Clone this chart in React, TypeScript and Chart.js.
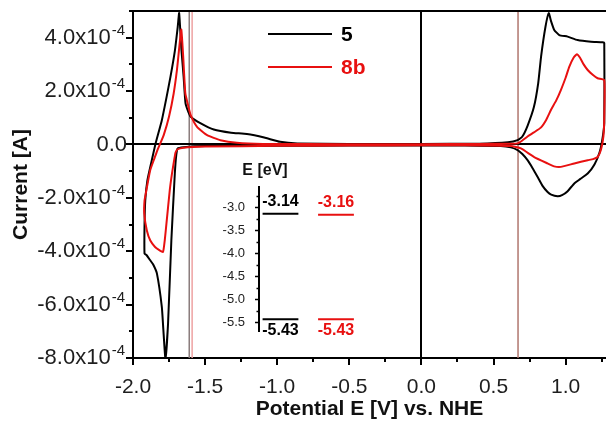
import React, { useEffect, useRef } from 'react';
import { Chart, registerables } from 'chart.js';

Chart.register(...registerables);

// ---- Data: cyclic voltammograms (current in units of 10^-4 A) ----
const seriesNames = ['5', '8b'];
const seriesColors = ['#000000', '#e81010'];

const potential5 = [
  0.0, -0.5, -1.0, -1.5, -1.65, -1.69, -1.7, -1.71, -1.734, -1.757, -1.775, -1.79, -1.8, -1.834, -1.86, -1.882, -1.905, -1.92,
  -1.92, -1.915, -1.9, -1.87, -1.845, -1.8, -1.77, -1.74, -1.71, -1.69, -1.68,
  -1.665, -1.649, -1.636, -1.615, -1.6, -1.53, -1.44, -1.32, -1.21, -1.09, -0.98, -0.86, -0.5, 0.0, 0.4, 0.6, 0.667, 0.7, 0.736, 0.78, 0.81, 0.83, 0.86, 0.883,
  0.9, 0.921, 0.956, 1.014, 1.083, 1.176, 1.257, 1.268,
  1.268, 1.255, 1.235, 1.2, 1.153, 1.1, 1.06, 1.014, 0.975, 0.944, 0.9, 0.875, 0.84, 0.806, 0.77, 0.736, 0.7, 0.667, 0.62, 0.55, 0.3, 0.0,
];
const current5 = [
  -0.03, -0.04, -0.05, -0.06, -0.1, -0.15, -0.4, -1.09, -3.59, -6.72, -8.03, -6.9, -6.09, -4.84, -4.5, -4.33, -4.15, -4.09,
  -3.0, -2.1, -1.34, -0.6, 0.0, 0.91, 1.7, 2.54, 3.5, 4.4, 4.92,
  3.6, 2.54, 1.55, 1.2, 1.04, 0.79, 0.56, 0.44, 0.39, 0.26, 0.1, 0.04, 0.02, 0.02, 0.03, 0.08, 0.16, 0.3, 0.7, 1.4, 2.3, 3.3, 4.4, 4.92,
  4.6, 4.29, 4.1, 4.04, 3.91, 3.85, 3.83, 3.8,
  0.8, 0.2, -0.3, -0.75, -1.09, -1.3, -1.46, -1.75, -1.9, -1.94, -1.88, -1.78, -1.55, -1.22, -0.88, -0.59, -0.36, -0.21, -0.11, -0.06, -0.04, -0.03,
];

const potential8b = [
  0.0, -0.5, -1.0, -1.5, -1.65, -1.69, -1.705, -1.715, -1.73, -1.745, -1.768, -1.78, -1.792, -1.82, -1.847, -1.88, -1.904, -1.922,
  -1.92, -1.91, -1.9, -1.88, -1.85, -1.83, -1.81, -1.787, -1.75, -1.718, -1.695, -1.68, -1.665,
  -1.652, -1.637, -1.615, -1.6, -1.556, -1.486, -1.394, -1.28, -1.1, -0.5, 0.0, 0.4, 0.6, 0.667, 0.7, 0.736, 0.78, 0.828, 0.865, 0.898, 0.935, 0.967, 1.0, 1.025, 1.055, 1.078, 1.1, 1.125, 1.153, 1.19, 1.222, 1.268,
  1.268, 1.262, 1.245, 1.222, 1.19, 1.153, 1.06, 0.967, 0.92, 0.875, 0.782, 0.69, 0.62, 0.3, 0.0,
];
const current8b = [
  -0.03, -0.04, -0.05, -0.08, -0.12, -0.18, -0.3, -0.6, -1.1, -1.71, -2.96, -3.6, -4.03, -3.95, -3.84, -3.6, -3.22, -2.59,
  -2.1, -1.8, -1.5, -0.95, -0.5, -0.2, 0.05, 0.35, 1.05, 1.91, 2.8, 3.6, 4.31,
  3.3, 1.91, 1.4, 1.1, 0.66, 0.35, 0.16, 0.06, 0.02, 0.01, 0.01, 0.02, 0.03, 0.04, 0.15, 0.3, 0.45, 0.63, 0.92, 1.29, 1.65, 2.04, 2.5, 2.91, 3.25, 3.38, 3.25, 3.0, 2.79, 2.6, 2.48, 2.41,
  1.0, 0.3, -0.2, -0.47, -0.55, -0.59, -0.71, -0.84, -0.82, -0.71, -0.47, -0.15, -0.06, -0.03, -0.03,
];

const xTickValues = [-2.0, -1.5, -1.0, -0.5, 0.0, 0.5, 1.0];
const yTickValues = [-8, -6, -4, -2, 0, 2, 4];
const yExponent = '-4';
const markerPotentials = [-1.61, -1.59, 0.67];
const markerColors = ['#8a7c7c', '#eea2a2', '#b0766e'];

// ---- Inset: energy levels (eV) ----
const levelCompounds = ['5', '8b'];
const lumoLevels = [-3.14, -3.16];
const homoLevels = [-5.43, -5.43];
const insetTickValues = [-3.0, -3.5, -4.0, -4.5, -5.0, -5.5];

const FONT = '"Liberation Sans", Arial, Helvetica, sans-serif';
const LEVEL_PITCH = 1.55;
const LEVEL_WIDTH = 1.0;

const toPoints = (xs: number[], ys: number[]) => xs.map((x, i) => ({ x, y: ys[i] }));

const mainDecor = {
  id: 'mainDecor',
  beforeDatasetsDraw(chart: any) {
    const { ctx, chartArea: a, scales } = chart;
    const xs = scales.x;
    const ys = scales.y;
    ctx.save();
    ctx.beginPath();
    ctx.rect(a.left, a.top, a.right - a.left, a.bottom - a.top);
    ctx.clip();
    markerPotentials.forEach((v, i) => {
      const px = xs.getPixelForValue(v);
      ctx.strokeStyle = markerColors[i];
      ctx.lineWidth = 1.5;
      ctx.beginPath();
      ctx.moveTo(px, a.top);
      ctx.lineTo(px, a.bottom);
      ctx.stroke();
    });
    const x0 = Math.round(xs.getPixelForValue(0));
    const y0 = Math.round(ys.getPixelForValue(0));
    ctx.strokeStyle = '#000';
    ctx.lineWidth = 2;
    ctx.beginPath();
    ctx.moveTo(x0, a.top);
    ctx.lineTo(x0, a.bottom);
    ctx.moveTo(a.left, y0);
    ctx.lineTo(a.right, y0);
    ctx.stroke();
    ctx.restore();
  },
  afterDraw(chart: any) {
    const { ctx, chartArea: a, scales } = chart;
    const xs = scales.x;
    const ys = scales.y;
    ctx.save();
    // top frame line
    ctx.strokeStyle = '#000';
    ctx.lineWidth = 2;
    ctx.beginPath();
    ctx.moveTo(a.left - 1, a.top);
    ctx.lineTo(a.right, a.top);
    ctx.stroke();
    // x ticks (major + minor)
    for (let i = -8; i <= 5; i++) {
      const v = i * 0.25;
      if (v > xs.max) break;
      const px = Math.round(xs.getPixelForValue(v));
      const len = i % 2 === 0 ? 7 : 4;
      ctx.beginPath();
      ctx.moveTo(px, a.bottom);
      ctx.lineTo(px, a.bottom + len);
      ctx.stroke();
    }
    // y ticks
    for (let v = -8; v <= 5; v++) {
      const py = Math.round(ys.getPixelForValue(v));
      const len = v % 2 === 0 ? 7 : 4;
      ctx.beginPath();
      ctx.moveTo(a.left - len, py);
      ctx.lineTo(a.left, py);
      ctx.stroke();
    }
    // y tick labels with superscript exponent
    ctx.fillStyle = '#1e1e1e';
    ctx.textBaseline = 'middle';
    ctx.textAlign = 'right';
    const rightX = a.left - 8;
    yTickValues.forEach((v) => {
      const py = ys.getPixelForValue(v);
      if (v === 0) {
        ctx.font = `22px ${FONT}`;
        ctx.fillText('0.0', rightX + 2, py);
        return;
      }
      ctx.font = `15px ${FONT}`;
      const sw = ctx.measureText(yExponent).width;
      ctx.fillText(yExponent, rightX, py - 7);
      ctx.font = `22px ${FONT}`;
      ctx.fillText(`${v.toFixed(1)}x10`, rightX - sw - 1, py);
    });
    // legend
    const lx0 = 268;
    const lx1 = 332;
    seriesNames.forEach((name, i) => {
      const ly = 34 + i * 33;
      ctx.strokeStyle = seriesColors[i];
      ctx.lineWidth = 2;
      ctx.beginPath();
      ctx.moveTo(lx0, ly);
      ctx.lineTo(lx1, ly);
      ctx.stroke();
      ctx.fillStyle = seriesColors[i];
      ctx.font = `bold 21px ${FONT}`;
      ctx.textAlign = 'left';
      ctx.fillText(name, lx1 + 9, ly + 1);
    });
    ctx.restore();
  },
};

const insetDecor = {
  id: 'insetDecor',
  afterDraw(chart: any) {
    const { ctx, chartArea: a, scales } = chart;
    const ys = scales.y;
    ctx.save();
    ctx.strokeStyle = '#000';
    ctx.lineWidth = 1.5;
    for (let i = -23; i <= -10; i++) {
      const v = i * 0.25;
      if (v < ys.min || v > ys.max) continue;
      const py = Math.round(ys.getPixelForValue(v)) + 0.5;
      const len = i % 2 === 0 ? 4 : 2.5;
      ctx.beginPath();
      ctx.moveTo(a.left - len, py);
      ctx.lineTo(a.left, py);
      ctx.stroke();
    }
    ctx.fillStyle = '#111';
    ctx.font = `bold 16px ${FONT}`;
    ctx.textAlign = 'center';
    ctx.textBaseline = 'middle';
    ctx.fillText('E [eV]', a.left + 6, a.top - 16);
    // level value labels
    chart.data.datasets.forEach((ds: any, di: number) => {
      const meta = chart.getDatasetMeta(di);
      const p0 = meta.data[0];
      const p1 = meta.data[1];
      if (!p0 || !p1) return;
      const cx = (p0.x + p1.x) / 2;
      const cy = p0.y + (ds.levelSide === 'above' ? -12.5 : 11);
      ctx.fillStyle = ds.borderColor;
      ctx.font = `bold 16px ${FONT}`;
      ctx.fillText(ds.data[0].y.toFixed(2), cx, cy);
    });
    ctx.restore();
  },
};

export default function App() {
  const mainRef = useRef<HTMLCanvasElement | null>(null);
  const insetRef = useRef<HTMLCanvasElement | null>(null);

  useEffect(() => {
    if (!mainRef.current || !insetRef.current) return;
    const main = new Chart(mainRef.current, {
      type: 'scatter',
      data: {
        datasets: [
          {
            label: seriesNames[0],
            data: toPoints(potential5, current5),
            borderColor: seriesColors[0],
            backgroundColor: seriesColors[0],
            showLine: true,
            pointRadius: 0,
            borderWidth: 2,
            borderJoinStyle: 'round',
            tension: 0.15,
            order: 1,
          },
          {
            label: seriesNames[1],
            data: toPoints(potential8b, current8b),
            borderColor: seriesColors[1],
            backgroundColor: seriesColors[1],
            showLine: true,
            pointRadius: 0,
            borderWidth: 2,
            borderJoinStyle: 'round',
            tension: 0.15,
            order: 0,
          },
        ],
      },
      options: {
        animation: false,
        responsive: false,
        layout: { padding: { top: 11, right: 0, bottom: 0, left: 0 } },
        plugins: { legend: { display: false }, tooltip: { enabled: false } },
        scales: {
          x: {
            type: 'linear',
            min: -2.0,
            max: 1.28,
            afterBuildTicks: (s: any) => {
              s.ticks = xTickValues.map((value) => ({ value }));
            },
            afterFit: (s: any) => {
              s.height = 64;
            },
            grid: { display: false },
            border: { display: true, color: '#000', width: 2 },
            ticks: {
              autoSkip: false,
              maxRotation: 0,
              padding: 9,
              color: '#1e1e1e',
              font: { family: FONT, size: 21 },
              callback: (v: any) => Number(v).toFixed(1),
            },
            title: {
              display: true,
              text: 'Potential E [V] vs. NHE',
              color: '#111',
              font: { family: FONT, size: 21, weight: 'bold' },
              padding: { top: 0, bottom: 0 },
            },
          },
          y: {
            type: 'linear',
            min: -8,
            max: 5,
            afterBuildTicks: (s: any) => {
              s.ticks = yTickValues.map((value) => ({ value }));
            },
            afterFit: (s: any) => {
              s.width = 133;
            },
            grid: { display: false },
            border: { display: true, color: '#000', width: 2 },
            ticks: { display: false },
            title: {
              display: true,
              text: 'Current [A]',
              color: '#111',
              font: { family: FONT, size: 21, weight: 'bold' },
              padding: { top: 9, bottom: 0 },
            },
          },
        },
      } as any,
      plugins: [mainDecor],
    });

    const insetSets: any[] = [];
    levelCompounds.forEach((name, i) => {
      const x0 = i * LEVEL_PITCH;
      const x1 = x0 + LEVEL_WIDTH;
      insetSets.push({
        label: `${name} LUMO`,
        data: [{ x: x0, y: lumoLevels[i] }, { x: x1, y: lumoLevels[i] }],
        borderColor: seriesColors[i],
        showLine: true,
        pointRadius: 0,
        borderWidth: 2,
        levelSide: 'above',
      });
      insetSets.push({
        label: `${name} HOMO`,
        data: [{ x: x0, y: homoLevels[i] }, { x: x1, y: homoLevels[i] }],
        borderColor: seriesColors[i],
        showLine: true,
        pointRadius: 0,
        borderWidth: 2,
        levelSide: 'below',
      });
    });

    const inset = new Chart(insetRef.current, {
      type: 'scatter',
      data: { datasets: insetSets },
      options: {
        animation: false,
        responsive: false,
        layout: { padding: { top: 37, bottom: 12, left: 0, right: 0 } },
        plugins: { legend: { display: false }, tooltip: { enabled: false } },
        scales: {
          x: { type: 'linear', min: -0.1, max: 3.0, display: false },
          y: {
            type: 'linear',
            min: -5.69,
            max: -2.56,
            afterBuildTicks: (s: any) => {
              s.ticks = insetTickValues.map((value) => ({ value }));
            },
            afterFit: (s: any) => {
              s.width = 59;
            },
            grid: { display: false },
            border: { display: true, color: '#000', width: 2 },
            ticks: {
              padding: 6,
              color: '#222',
              font: { family: FONT, size: 13 },
              callback: (v: any) => Number(v).toFixed(1),
            },
          },
        },
      } as any,
      plugins: [insetDecor],
    });

    return () => {
      main.destroy();
      inset.destroy();
    };
  }, []);

  return (
    <div style={{ position: 'absolute', left: 0, top: 0, width: 606, height: 422, background: '#fff' }}>
      <canvas ref={mainRef} width={606} height={422} style={{ position: 'absolute', left: 0, top: 0 }} />
      <canvas ref={insetRef} width={170} height={195} style={{ position: 'absolute', left: 200, top: 150 }} />
    </div>
  );
}
